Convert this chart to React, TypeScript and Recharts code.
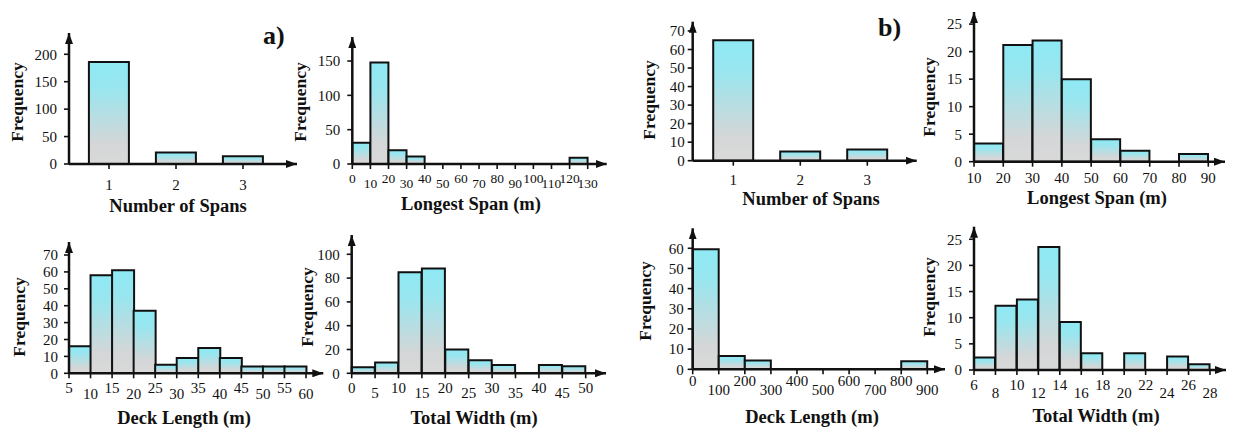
import React from 'react'
import { BarChart, Bar, XAxis, YAxis } from 'recharts'

const FONT = '"Liberation Serif", "Times New Roman", serif'
const INK = '#111'

// ---- data ----
const spanCats = ['1', '2', '3']
const spansA = [186, 21, 14]
const spansB = [65, 5, 6]

const longestEdgesA = [0, 10, 20, 30, 40, 50, 60, 70, 80, 90, 100, 110, 120, 130]
const longestA = [31, 148, 20, 11, 0, 0, 0, 0, 0, 0, 0, 0, 9]

const deckEdgesA = [5, 10, 15, 20, 25, 30, 35, 40, 45, 50, 55, 60]
const deckA = [16, 58, 61, 37, 5, 9, 15, 9, 4, 4, 4]

const widthEdgesA = [0, 5, 10, 15, 20, 25, 30, 35, 40, 45, 50]
const widthA = [5, 9, 85, 88, 20, 11, 7, 0, 7, 6]

const longestEdgesB = [10, 20, 30, 40, 50, 60, 70, 80, 90]
const longestB = [3.3, 21.2, 22, 15, 4.1, 2, 0, 1.4]

const deckEdgesB = [0, 100, 200, 300, 400, 500, 600, 700, 800, 900]
const deckB = [59.5, 6.6, 4.4, 0, 0, 0, 0, 0, 4]

const widthEdgesB = [6, 8, 10, 12, 14, 16, 18, 20, 22, 24, 26, 28]
const widthB = [2.4, 12.3, 13.5, 23.5, 9.2, 3.2, 0, 3.2, 0, 2.6, 1.1]

// ---- layout ----
const YW = 40
const XH = 40

interface Box {
  x0: number; y0: number; w: number; h: number
  left: number; right: number; top: number; bottom: number
  padL: number; padR: number
}

function margins(b: Box) {
  return {
    left: b.left - b.x0 - YW,
    right: b.x0 + b.w - b.right,
    top: b.top - b.y0,
    bottom: b.y0 + b.h - b.bottom - XH,
  }
}

const axisX = { stroke: INK, strokeWidth: 2.5, markerEnd: 'url(#axisArrow)' }
const axisY = { stroke: INK, strokeWidth: 2.5, markerStart: 'url(#axisArrow)' }
const tickLn = { stroke: INK, strokeWidth: 1.6 }
const yTickStyle = { fontSize: 15, fill: INK, fontFamily: FONT }

function EdgeTick(props: any) {
  const { x, y, payload, edges, upDy, downDy, size = 15 } = props
  const i = edges.indexOf(payload.value)
  return (
    <text x={x} y={y} dy={i % 2 === 1 ? downDy : upDy} textAnchor="middle" fontSize={size} fontFamily={FONT} fill={INK}>
      {payload.value}
    </text>
  )
}

function CatTick(props: any) {
  const { x, y, payload, dy } = props
  return (
    <text x={x} y={y} dy={dy} textAnchor="middle" fontSize={15} fontFamily={FONT} fill={INK}>
      {payload.value}
    </text>
  )
}

interface HistProps {
  box: Box
  edges: number[]
  freq: number[]
  yMax: number
  yTicks: number[]
  yMargin: number
  upDy: number
  downDy: number
  tickSizePx?: number
}

function Histogram({ box, edges, freq, yMax, yTicks, yMargin, upDy, downDy, tickSizePx = 15 }: HistProps) {
  const data = freq.map((f, i) => ({ bin: `${edges[i]}-${edges[i + 1]}`, lo: edges[i], f }))
  const pad = { left: box.padL, right: box.padR }
  return (
    <div style={{ position: 'absolute', left: box.x0, top: box.y0 }}>
      <BarChart width={box.w} height={box.h} data={data} margin={margins(box)} barCategoryGap={0}>
        <XAxis
          xAxisId="edges"
          dataKey="lo"
          type="number"
          domain={[edges[0], edges[edges.length - 1]]}
          allowDataOverflow
          ticks={edges}
          interval={0}
          padding={pad}
          height={XH}
          axisLine={axisX}
          tickLine={tickLn}
          tickSize={5}
          tickMargin={0}
          tick={<EdgeTick edges={edges} upDy={upDy} downDy={downDy} size={tickSizePx} />}
        />
        <XAxis xAxisId="bins" dataKey="bin" type="category" hide height={0} padding={pad} />
        <YAxis
          width={YW}
          type="number"
          domain={[0, yMax]}
          allowDataOverflow
          ticks={yTicks}
          interval={0}
          axisLine={axisY}
          tickLine={tickLn}
          tickSize={5}
          tickMargin={yMargin}
          tick={yTickStyle}
        />
        <Bar xAxisId="bins" dataKey="f" fill="url(#histFill)" stroke={INK} strokeWidth={2} isAnimationActive={false} />
      </BarChart>
    </div>
  )
}

interface CatProps {
  box: Box
  freq: number[]
  yMax: number
  yTicks: number[]
  yMargin: number
  tickDy: number
}

function CategoryBars({ box, freq, yMax, yTicks, yMargin, tickDy }: CatProps) {
  const data = spanCats.map((c, i) => ({ cat: c, f: freq[i] }))
  return (
    <div style={{ position: 'absolute', left: box.x0, top: box.y0 }}>
      <BarChart width={box.w} height={box.h} data={data} margin={margins(box)} barCategoryGap="20%">
        <XAxis
          dataKey="cat"
          type="category"
          padding={{ left: box.padL, right: box.padR }}
          height={XH}
          axisLine={axisX}
          tickLine={tickLn}
          tickSize={5}
          tickMargin={0}
          interval={0}
          tick={<CatTick dy={tickDy} />}
        />
        <YAxis
          width={YW}
          type="number"
          domain={[0, yMax]}
          allowDataOverflow
          ticks={yTicks}
          interval={0}
          axisLine={axisY}
          tickLine={tickLn}
          tickSize={5}
          tickMargin={yMargin}
          tick={yTickStyle}
        />
        <Bar dataKey="f" fill="url(#histFill)" stroke={INK} strokeWidth={2} isAnimationActive={false} />
      </BarChart>
    </div>
  )
}

const boxA1: Box = { x0: 0, y0: 0, w: 310, h: 215, left: 69, right: 297, top: 33, bottom: 164, padL: 6.5, padR: 20.5 }
const boxA2: Box = { x0: 290, y0: 0, w: 330, h: 215, left: 352.3, right: 606.7, top: 37, bottom: 164, padL: 0, padR: 19 }
const boxA3: Box = { x0: 0, y0: 215, w: 330, h: 217, left: 69, right: 323.3, top: 242, bottom: 373.3, padL: 0, padR: 17.3 }
const boxA4: Box = { x0: 290, y0: 215, w: 330, h: 217, left: 351.7, right: 606, top: 235, bottom: 373.3, padL: 0, padR: 20.3 }
const boxB1: Box = { x0: 630, y0: 0, w: 300, h: 215, left: 692.7, right: 916.7, top: 21.7, bottom: 160.7, padL: 7.1, padR: 15.9 }
const boxB2: Box = { x0: 920, y0: 0, w: 313, h: 215, left: 974, right: 1225, top: 12, bottom: 161.7, padL: 0, padR: 16.7 }
const boxB3: Box = { x0: 630, y0: 215, w: 330, h: 217, left: 692.7, right: 945, top: 228.3, bottom: 369.3, padL: 0, padR: 17.7 }
const boxB4: Box = { x0: 920, y0: 215, w: 313, h: 217, left: 974, right: 1226, top: 226.7, bottom: 370, padL: 0, padR: 16 }

const xTitles = [
  { text: 'Number of Spans', x: 178, y: 212 },
  { text: 'Longest Span (m)', x: 471, y: 210 },
  { text: 'Deck Length (m)', x: 184, y: 424 },
  { text: 'Total Width (m)', x: 474, y: 424 },
  { text: 'Number of Spans', x: 811, y: 205 },
  { text: 'Longest Span (m)', x: 1097, y: 204 },
  { text: 'Deck Length (m)', x: 812, y: 423 },
  { text: 'Total Width (m)', x: 1096, y: 422 },
]

const yTitles = [
  { x: 23, y: 102 },
  { x: 306, y: 102 },
  { x: 25, y: 317 },
  { x: 313, y: 307 },
  { x: 655, y: 100 },
  { x: 935, y: 97 },
  { x: 651, y: 301 },
  { x: 935, y: 297 },
]

export default function App() {
  return (
    <div style={{ position: 'absolute', left: 0, top: 0, width: 1233, height: 432, background: '#fff', fontFamily: FONT }}>
      <style>{`svg text { font-family: "Liberation Serif", "Times New Roman", serif; }`}</style>
      <CategoryBars box={boxA1} freq={spansA} yMax={238.8} yTicks={[0, 50, 100, 150, 200]} yMargin={7} tickDy={21} />
      <Histogram box={boxA2} edges={longestEdgesA} freq={longestA} yMax={185} yTicks={[0, 50, 100, 150]} yMargin={7} upDy={14.3} downDy={19.3} tickSizePx={13.5} />
      <Histogram box={boxA3} edges={deckEdgesA} freq={deckA} yMax={77.7} yTicks={[0, 10, 20, 30, 40, 50, 60, 70]} yMargin={6} upDy={15} downDy={20.7} />
      <Histogram box={boxA4} edges={widthEdgesA} freq={widthA} yMax={116.2} yTicks={[0, 20, 40, 60, 80, 100]} yMargin={7} upDy={14.3} downDy={19.7} />
      <CategoryBars box={boxB1} freq={spansB} yMax={75} yTicks={[0, 10, 20, 30, 40, 50, 60, 70]} yMargin={3} tickDy={19.3} />
      <Histogram box={boxB2} edges={longestEdgesB} freq={longestB} yMax={27.2} yTicks={[0, 5, 10, 15, 20, 25]} yMargin={7} upDy={16.6} downDy={16.6} />
      <Histogram box={boxB3} edges={deckEdgesB} freq={deckB} yMax={69.9} yTicks={[0, 10, 20, 30, 40, 50, 60]} yMargin={4} upDy={11.5} downDy={20.7} />
      <Histogram box={boxB4} edges={widthEdgesB} freq={widthB} yMax={27.4} yTicks={[0, 5, 10, 15, 20, 25]} yMargin={7} upDy={15} downDy={23.3} />
      <svg width={1233} height={432} style={{ position: 'absolute', left: 0, top: 0, pointerEvents: 'none' }}>
        <defs>
          <marker id="axisArrow" markerUnits="userSpaceOnUse" markerWidth={11} markerHeight={8} refX={11} refY={4} orient="auto-start-reverse">
            <path d="M0,0 L11,4 L0,8 z" fill={INK} />
          </marker>
          <linearGradient id="histFill" x1="0" y1="0" x2="0" y2="1">
            <stop offset="0%" stopColor="#8ee9f4" />
            <stop offset="25%" stopColor="#98e6ef" />
            <stop offset="80%" stopColor="#d4d6d7" />
            <stop offset="100%" stopColor="#d9d9d9" />
          </linearGradient>
        </defs>
        {xTitles.map((t, i) => (
          <text key={i} x={t.x} y={t.y} textAnchor="middle" fontSize={18.5} fontWeight="bold" fontFamily={FONT} fill={INK}>
            {t.text}
          </text>
        ))}
        {yTitles.map((t, i) => (
          <text key={i} x={t.x} y={t.y} transform={`rotate(-90 ${t.x} ${t.y})`} textAnchor="middle" fontSize={17.5} fontWeight="bold" fontFamily={FONT} fill={INK}>
            Frequency
          </text>
        ))}
        <text x={263} y={44} fontSize={26} fontWeight="bold" fontFamily={FONT} fill={INK}>a)</text>
        <text x={878} y={36} fontSize={26} fontWeight="bold" fontFamily={FONT} fill={INK}>b)</text>
      </svg>
    </div>
  )
}
